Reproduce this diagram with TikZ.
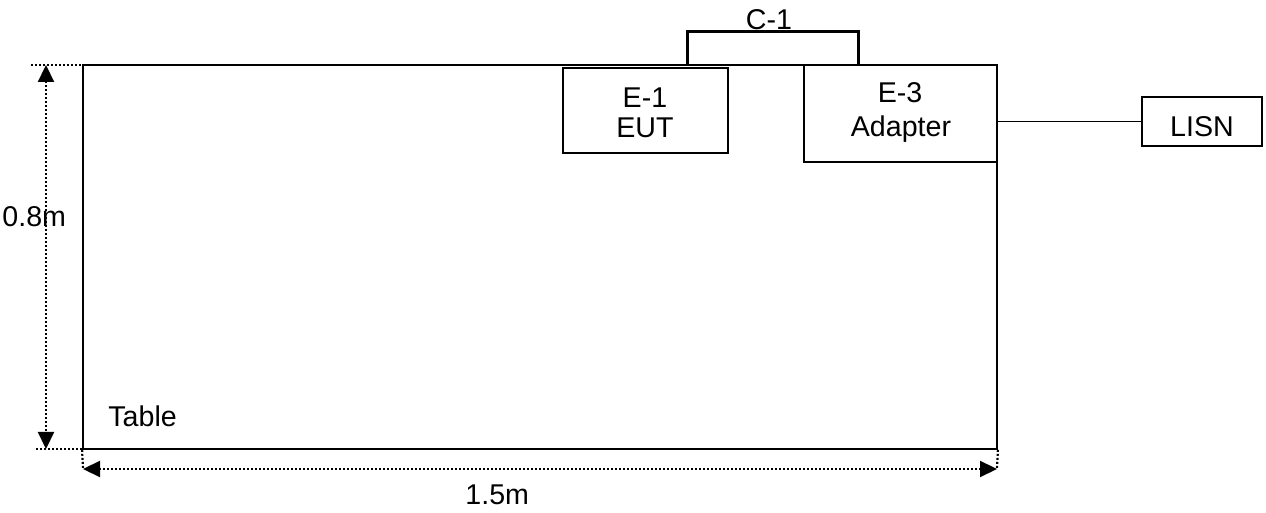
\documentclass[tikz,border=0pt]{standalone}
\usepackage{fontspec}
\setmainfont{Liberation Sans}
\usetikzlibrary{arrows.meta}
\begin{document}
\begin{tikzpicture}[x=0.5pt,y=-0.5pt,
  box/.style={draw,line width=0.9pt,inner sep=0pt},
  lbl/.style={font=\fontsize{14.3pt}{15pt}\selectfont,inner sep=0pt,anchor=base},
  dim/.style={line width=1.1pt,dash pattern=on 1pt off 1pt},
  tips/.style={{Triangle[length=8.5pt,width=8pt]}-{Triangle[length=8.5pt,width=8pt]}},
  wire/.style={line width=0.9pt},
  cable/.style={line width=1.5pt}]
\useasboundingbox (0,0) rectangle (1266,513);
% table and boxes
\node[box,minimum width=457pt,minimum height=192pt] (table) at (540,257) {};
\node[box,minimum width=82.5pt,minimum height=42.5pt] (e1) at (645.5,110.5) {};
\node[box,minimum width=96.5pt,minimum height=48.5pt] (e3) at (900.5,113.5) {};
\node[box,minimum width=60pt,minimum height=24.5pt] (lisn) at (1202,121.5) {};
% labels
\node[lbl] (e1a) at (645,108) {E-1};
\node[lbl] (e1b) at (645,138) {EUT};
\node[lbl] (e3a) at (900,103) {E-3};
\node[lbl] (e3b) at (901,137) {Adapter};
\node[lbl] (lisnl) at (1202,137) {LISN};
\node[lbl] (c1l) at (769,30) {C-1};
\node[lbl,anchor=base west] (tablel) at (108,427) {Table};
\node[lbl,anchor=base west] (hdim) at (2,227) {0.8m};
\node[lbl,anchor=base west] (wdim) at (465,505) {1.5m};
% cable C-1
\coordinate (c1s) at (687,65);
\coordinate (c1e) at (858,65);
\draw[cable] (c1s) -- (687,32) -- (858,32) -- (c1e);
% power line
\draw[wire] (lisn.west) -- (lisn.west -| e3.east);
% dimensions
\coordinate (xt) at (31,65);
\coordinate (xb) at (36,449);
\coordinate (xbr) at (107,449);
\coordinate (vt) at (46,65);
\coordinate (vb) at (46,449);
\coordinate (hl) at (83,469);
\coordinate (hr) at (997,469);
\draw[dim] (xt) -- (100,65);
\draw[dim] (xb) -- (xbr);
\draw[dim] (table.south west) -- (hl);
\draw[dim] (table.south east) -- (hr);
\draw[dim,tips] (vt) -- (vb);
\draw[dim,tips] (hl) -- (hr);
\end{tikzpicture}
\end{document}
